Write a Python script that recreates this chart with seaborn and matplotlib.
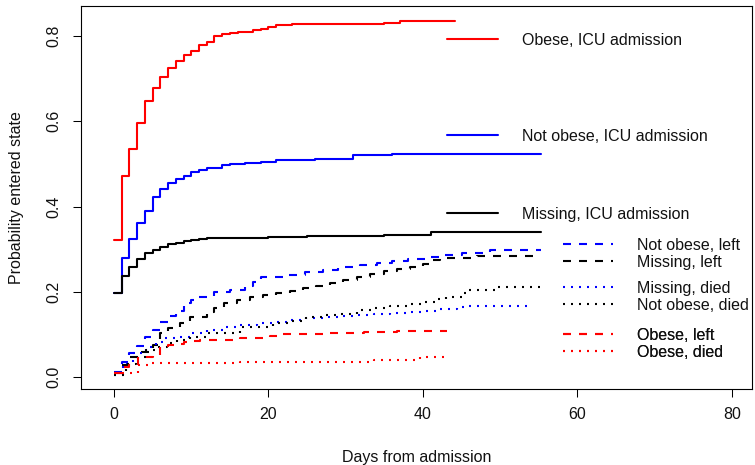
import numpy as np
import pandas as pd
import matplotlib
matplotlib.use("Agg")
import matplotlib.pyplot as plt
import seaborn as sns

# ---------------- data ----------------
obese_icu_days = [0, 1, 2, 3, 4, 5, 6, 7, 8, 9, 10, 11, 12, 13, 14, 15, 16, 17, 18, 19, 20, 21, 23, 35, 37, 44.1]
obese_icu_vals = [0.321, 0.472, 0.534, 0.597, 0.648, 0.677, 0.705, 0.726, 0.741, 0.756, 0.766, 0.780, 0.787,
                  0.801, 0.805, 0.808, 0.809, 0.810, 0.813, 0.816, 0.822, 0.825, 0.828, 0.831, 0.835, 0.835]

notobese_icu_days = [0, 1, 2, 3, 4, 5, 6, 7, 8, 9, 10, 11, 12, 14, 15, 17, 19, 21, 26, 31, 36, 55.3]
notobese_icu_vals = [0.198, 0.280, 0.324, 0.361, 0.390, 0.422, 0.441, 0.456, 0.464, 0.472, 0.480, 0.485,
                     0.490, 0.497, 0.499, 0.501, 0.504, 0.508, 0.511, 0.521, 0.523, 0.523]

missing_icu_days = [0, 1, 2, 3, 4, 5, 6, 7, 8, 9, 10, 11, 12, 15, 20, 25, 30, 35, 41, 55.3]
missing_icu_vals = [0.197, 0.237, 0.259, 0.277, 0.290, 0.298, 0.306, 0.311, 0.315, 0.319, 0.321, 0.324,
                    0.325, 0.327, 0.329, 0.330, 0.332, 0.334, 0.340, 0.340]

notobese_left_days = [0, 1, 2, 3, 4, 5, 6, 7, 8, 9, 10, 11, 13, 15, 17, 18, 19, 22.5, 24.7, 27, 29, 31.8,
                      34, 36, 38, 40.4, 42.5, 45, 48.7, 55.3]
notobese_left_vals = [0.0125, 0.036, 0.0555, 0.0735, 0.093, 0.110, 0.128, 0.143, 0.154, 0.173, 0.180, 0.188,
                      0.200, 0.204, 0.214, 0.222, 0.234, 0.239, 0.246, 0.251, 0.257, 0.263, 0.268, 0.273,
                      0.278, 0.282, 0.286, 0.290, 0.298, 0.298]

missing_left_days = [0, 1, 2, 3, 5, 6, 7, 8.5, 9.8, 12, 13, 14.2, 15.9, 17.6, 19.3, 21, 22.8, 24.5, 26.2,
                     28, 29.7, 31.4, 33.1, 34.9, 36.6, 38.3, 40, 40.9, 42.2, 47, 55.3]
missing_left_vals = [0.010, 0.028, 0.048, 0.059, 0.075, 0.1025, 0.114, 0.126, 0.1415, 0.153, 0.161, 0.173,
                     0.181, 0.187, 0.192, 0.196, 0.202, 0.208, 0.214, 0.220, 0.228, 0.235, 0.242, 0.248,
                     0.253, 0.259, 0.265, 0.275, 0.280, 0.284, 0.284]

missing_died_days = [0, 1.2, 2.5, 4.2, 5.5, 6.4, 8.1, 9.8, 12, 14.2, 16.3, 18.5, 20.6, 22.8, 24.9, 27.1,
                     29.3, 31.4, 33.6, 35.7, 37.9, 40, 42.2, 44.4, 46, 54.3]
missing_died_vals = [0.005, 0.032, 0.057, 0.071, 0.083, 0.091, 0.095, 0.1025, 0.110, 0.117, 0.122, 0.126,
                     0.130, 0.134, 0.138, 0.1415, 0.144, 0.1455, 0.148, 0.151, 0.153, 0.156, 0.159, 0.1635,
                     0.1666, 0.1666]

notobese_died_days = [0, 1.6, 2.9, 4.2, 5.5, 6.8, 8.1, 9.8, 12, 16.3, 20.6, 22.8, 24.9, 27.1, 29.3, 31.4,
                      33.6, 35.7, 37.9, 40, 42, 43, 45, 46, 49.6, 55.1]
notobese_died_vals = [0.005, 0.030, 0.048, 0.063, 0.071, 0.079, 0.087, 0.095, 0.1025, 0.118, 0.126, 0.132,
                      0.140, 0.1455, 0.149, 0.157, 0.161, 0.1666, 0.171, 0.176, 0.182, 0.188, 0.196, 0.204,
                      0.212, 0.212]

obese_left_days = [0, 1, 2, 3.15, 5, 6, 7, 8.1, 9, 10.3, 11.1, 16.3, 20.2, 21.9, 28, 32.3, 36.6, 43.1]
obese_left_vals = [0.010, 0.024, 0.028, 0.048, 0.0516, 0.0712, 0.075, 0.0774, 0.083, 0.0852, 0.0868,
                   0.0915, 0.097, 0.100, 0.104, 0.1063, 0.108, 0.108]

obese_died_days = [0, 3.15, 4.7, 6.8, 16.3, 33.6, 39.6, 43.1]
obese_died_vals = [0.0086, 0.028, 0.032, 0.0336, 0.036, 0.040, 0.048, 0.048]

x_ticks = [0, 20, 40, 60, 80]
y_ticks = [0.0, 0.2, 0.4, 0.6, 0.8]
x_label = "Days from admission"
y_label = "Probability entered state"

# ---------------- styling ----------------
sns.set_theme(style="ticks")
plt.rcParams["font.family"] = ["Liberation Sans", "DejaVu Sans"]
FS = 11.5
LW = 1.5
DASHED = (0, (3.84, 3.84))
DOTTED = (0, (0.96, 2.88))

series = [
    ("Obese, ICU admission", obese_icu_days, obese_icu_vals, "#FF0000", "-"),
    ("Not obese, ICU admission", notobese_icu_days, notobese_icu_vals, "#0000FF", "-"),
    ("Missing, ICU admission", missing_icu_days, missing_icu_vals, "#000000", "-"),
    ("Not obese, left", notobese_left_days, notobese_left_vals, "#0000FF", DASHED),
    ("Missing, left", missing_left_days, missing_left_vals, "#000000", DASHED),
    ("Missing, died", missing_died_days, missing_died_vals, "#0000FF", DOTTED),
    ("Not obese, died", notobese_died_days, notobese_died_vals, "#000000", DOTTED),
    ("Obese, left", obese_left_days, obese_left_vals, "#FF0000", DASHED),
    ("Obese, died", obese_died_days, obese_died_vals, "#FF0000", DOTTED),
]

fig = plt.figure(figsize=(7.55, 4.65), dpi=100)
ax = fig.add_axes([81 / 755, 76 / 465, 671 / 755, 383 / 465])

handles = {}
for name, d, v, col, ls in series:
    df = pd.DataFrame({"day": d, "prob": v})
    sns.lineplot(data=df, x="day", y="prob", ax=ax, color=col, linestyle=ls, lw=LW,
                 drawstyle="steps-post", estimator=None, sort=False, errorbar=None, legend=False)
    handles[name] = ax.lines[-1]

ax.set_xlim(-4.27, 82.59)
ax.set_ylim(-0.0281, 0.8704)
ax.set_xticks(x_ticks)
ax.set_xticklabels([str(t) for t in x_ticks])
ax.set_yticks(y_ticks)
ax.set_yticklabels([f"{t:.1f}" for t in y_ticks])
for lab in ax.get_yticklabels():
    lab.set_rotation(90)
    lab.set_va("center")
ax.tick_params(axis="both", which="major", length=5.8, width=0.75, color="black",
               labelsize=FS, labelcolor="#111111", direction="out")
ax.tick_params(axis="x", pad=7)
ax.tick_params(axis="y", pad=8)
for sp in ax.spines.values():
    sp.set_visible(True)
    sp.set_color("black")
    sp.set_linewidth(0.8)

ax.set_xlabel(x_label, fontsize=FS, color="#111111", va="center")
ax.set_ylabel(y_label, fontsize=FS, color="#111111", va="center")
ax.xaxis.set_label_coords(0.5, -0.180)
ax.yaxis.set_label_coords(-0.0954, 0.5)


def put_legend(names, x_px, y_px):
    leg = ax.legend([handles[n] for n in names], names, loc="center left",
                    bbox_to_anchor=(x_px / 755, 1 - y_px / 465), bbox_transform=fig.transFigure,
                    frameon=False, fontsize=FS, handlelength=3.17, handletextpad=1.5,
                    borderpad=0, borderaxespad=0, labelspacing=0.12)
    for t in leg.get_texts():
        t.set_color("#111111")
    ax.add_artist(leg)
    return leg


put_legend(["Obese, ICU admission"], 447, 40.5)
put_legend(["Not obese, ICU admission"], 447, 136.5)
put_legend(["Missing, ICU admission"], 447, 214.5)
put_legend(["Not obese, left", "Missing, left"], 562.5, 254)
put_legend(["Missing, died", "Not obese, died"], 562.5, 297)
put_legend(["Obese, left", "Obese, died"], 562.5, 344)

fig.savefig("out.png", dpi=100)
